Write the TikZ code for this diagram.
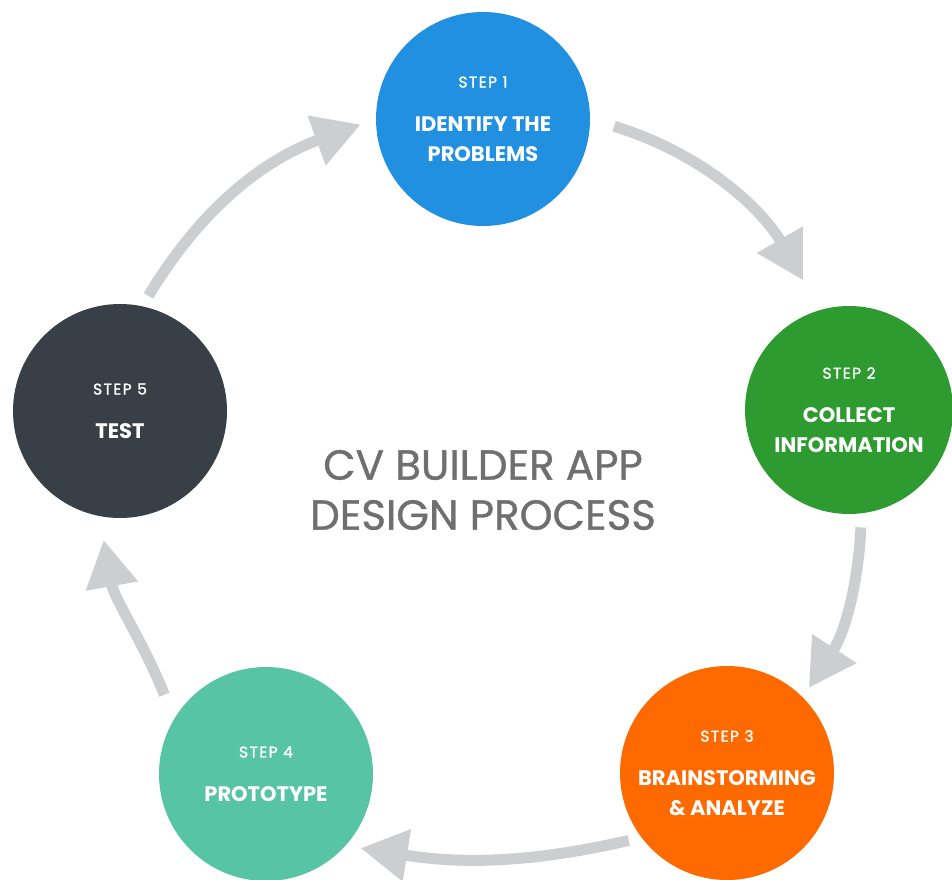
\documentclass[tikz,border=0pt]{standalone}
\usepackage{fontspec}
\setmainfont{Poppins}
\newfontfamily\stepfont[LetterSpace=9,FakeBold=1.5]{Poppins}
\newfontfamily\titlefont[FakeBold=0.9]{Poppins}
\usetikzlibrary{arrows.meta}
\definecolor{stepblue}{HTML}{2290E0}
\definecolor{stepgreen}{HTML}{2E9B30}
\definecolor{steporange}{HTML}{FF6A00}
\definecolor{stepteal}{HTML}{57C4A6}
\definecolor{stepdark}{HTML}{393F46}
\definecolor{arrowgray}{HTML}{CCCED0}
\definecolor{titlegray}{HTML}{6F6F6F}
\newcommand{\steplabel}[1]{{\stepfont\mdseries\fontsize{15.5}{17}\selectfont STEP #1}\\[14pt]}

\begin{document}
\begin{tikzpicture}[x=1pt,y=1pt,
  stepcircle/.style={circle,minimum size=214pt,inner sep=0pt,text=white,align=center,
    font=\fontsize{21}{30}\selectfont\bfseries},
  cyclearrow/.style={line width=11pt,color=arrowgray,-{Triangle[length=47pt,width=50pt]}}]
\useasboundingbox (0,0) rectangle (952,879);

% steps
\node[stepcircle,fill=stepblue] (s1) at (483,760) {\steplabel{1}IDENTIFY THE\\PROBLEMS};
\node[stepcircle,fill=stepgreen,minimum size=208pt] (s2) at (849,469) {\steplabel{2}COLLECT\\INFORMATION};
\node[stepcircle,fill=steporange] (s3) at (727,106) {\steplabel{3}BRAINSTORMING\\\& ANALYZE};
\node[stepcircle,fill=stepteal] (s4) at (266,105) {\steplabel{4}PROTOTYPE};
\node[stepcircle,fill=stepdark] (s5) at (120,468) {\steplabel{5}TEST};

\node[font=\titlefont\fontsize{42}{50}\selectfont,text=titlegray,align=center] (title) at (483,389) {CV BUILDER APP\\DESIGN PROCESS};

% arrows
\draw[cyclearrow,shorten <=25pt,shorten >=34pt] (s1.east) to[out=-17,in=120] (s2.106);
\draw[cyclearrow,shorten <=14pt,shorten >=11pt] (s2.-83) to[out=-93,in=57] (s3.45);
\draw[cyclearrow,shorten <=13pt,shorten >=15pt] (s3.217) to[out=193,in=-9] (s4.-42);
\draw[cyclearrow,shorten <=26pt,shorten >=24pt] (s4.149) to[out=112,in=-80] (s5.-101);
\draw[cyclearrow,shorten <=12pt,shorten >=16pt] (s5.78) to[out=59,in=200] (s1.180);
\end{tikzpicture}
\end{document}
